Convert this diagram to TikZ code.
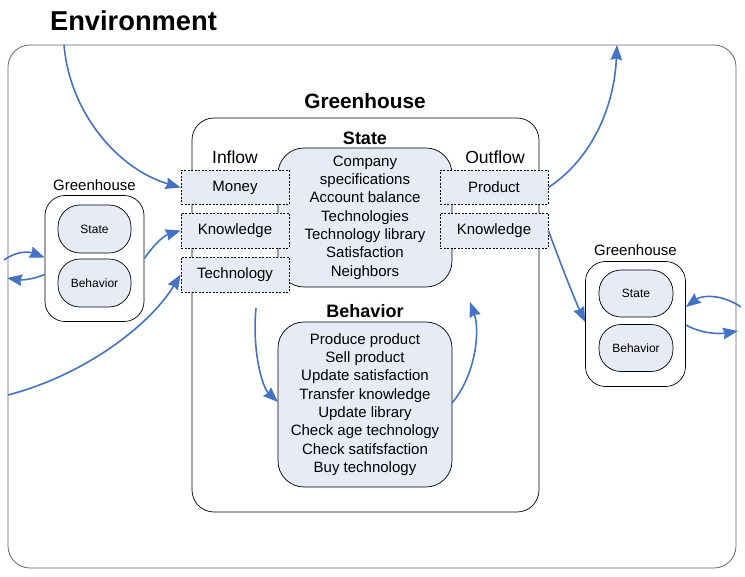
\documentclass[tikz,border=0pt]{standalone}
\usepackage{fontspec}
\setmainfont{Liberation Sans}
\usetikzlibrary{arrows.meta}
\definecolor{fillc}{RGB}{230,235,246}
\definecolor{arr}{RGB}{68,114,196}
\begin{document}
\begin{tikzpicture}[x=1pt,y=-1pt,
  rbox/.style={draw, fill=fillc, inner sep=0pt, align=center, line width=0.7pt},
  dbox/.style={draw, dashed, dash pattern=on 2pt off 1.5pt, fill=fillc, minimum width=108pt, inner sep=0pt, font=\fontsize{15}{18}\selectfont, line width=0.7pt},
  flow/.style={draw=arr, line width=1.6pt, -{Stealth[length=15pt,width=11.5pt,inset=1.5pt]}},
  big/.style={font=\fontsize{15}{18.3}\selectfont},
  hdr/.style={font=\fontsize{18}{20}\selectfont\bfseries},
  small/.style={font=\fontsize{12}{14}\selectfont}]
\useasboundingbox (0,0) rectangle (745,577);
% environment
\node[draw=gray!80!black, line width=0.8pt, rounded corners=22pt, minimum width=728pt, minimum height=523pt, inner sep=0pt] (env) at (372,306.5) {};
\node[font=\fontsize{27.3}{30}\selectfont\bfseries] (title) at (133.5,21) {Environment};
% main greenhouse
\node[draw, line width=0.7pt, rounded corners=22pt, minimum width=347pt, minimum height=394pt, inner sep=0pt] (gh) at (365.5,315) {};
\node[font=\fontsize{20.8}{22}\selectfont\bfseries] (ghl) at (365,101) {Greenhouse};
\node[hdr] (stl) at (365,138) {State};
\node[rbox, big, rounded corners=26pt, minimum width=174pt, minimum height=139pt] (state) at (365,217.5)
  {Company\\specifications\\Account balance\\Technologies\\Technology library\\Satisfaction\\Neighbors};
\node[font=\fontsize{17.5}{20}\selectfont] (inl) at (235,157) {Inflow};
\node[font=\fontsize{17.5}{20}\selectfont] (outl) at (495,157) {Outflow};
\node[dbox, minimum height=34pt] (money) at (235,187.5) {Money};
\node[dbox, minimum height=35pt] (kin) at (235,230.5) {Knowledge};
\node[dbox, minimum height=35pt] (tech) at (235,274.5) {Technology};
\node[dbox, minimum height=34pt] (prod) at (494,187.5) {Product};
\node[dbox, minimum height=35pt] (kout) at (494,230.5) {Knowledge};
\node[hdr] (bel) at (365,311) {Behavior};
\node[rbox, big, rounded corners=26pt, minimum width=174pt, minimum height=165pt] (beh) at (365,404.5)
  {Produce product\\Sell product\\Update satisfaction\\Transfer knowledge\\Update library\\Check age technology\\Check satifsfaction\\Buy technology};
% left small greenhouse
\node[font=\fontsize{15}{17}\selectfont] (lghl) at (94.5,185) {Greenhouse};
\node[draw, line width=0.7pt, rounded corners=20pt, minimum width=99pt, minimum height=126pt, inner sep=0pt] (lgh) at (94.5,258.5) {};
\node[rbox, small, rounded corners=22pt, minimum width=73pt, minimum height=48pt] (lst) at (94.5,229) {State};
\node[rbox, small, rounded corners=22pt, minimum width=73pt, minimum height=48pt] (lbe) at (94.5,283) {Behavior};
% right small greenhouse
\node[font=\fontsize{15}{17}\selectfont] (rghl) at (635.5,250) {Greenhouse};
\node[draw, line width=0.7pt, rounded corners=20pt, minimum width=100pt, minimum height=125pt, inner sep=0pt] (rgh) at (635.5,324) {};
\node[rbox, small, rounded corners=22pt, minimum width=74pt, minimum height=47pt] (rst) at (636,293.5) {State};
\node[rbox, small, rounded corners=22pt, minimum width=74pt, minimum height=47pt] (rbe) at (636,348) {Behavior};
% free ends
\coordinate (top1) at (64,45);
\coordinate (top2) at (617,45);
\coordinate (lin) at (4,260);
\coordinate (lout) at (7,278);
\coordinate (lbot) at (8,395);
\coordinate (rin) at (741,307);
\coordinate (rout) at (738,331);
\coordinate (b1s) at (256,308);
\coordinate (b1e) at (278,402);
\coordinate (b2s) at (452,403);
\coordinate (b2e) at (470,302);
% connectors
\draw[flow] (top1) .. controls (70,115) and (120,170) .. (money.west);
\draw[flow] (lin) .. controls (18,250) and (30,252) .. ([yshift=1pt]lgh.west);
\draw[flow] ([yshift=-16pt]lgh.west) .. controls (32,280) and (20,280) .. (lout);
\draw[flow] (lgh.east) .. controls (153,246) and (163,236) .. (kin.west);
\draw[flow] (lbot) .. controls (85,375) and (150,325) .. (tech.west);
\draw[flow] (prod.east) .. controls (590,160) and (614,110) .. (top2);
\draw[flow] (kout.east) .. controls (560,262) and (574,298) .. ([yshift=2pt]rgh.west);
\draw[flow] (rin) .. controls (722,294) and (702,295) .. ([yshift=17pt]rgh.east);
\draw[flow] ([yshift=-1pt]rgh.east) .. controls (702,334) and (720,334) .. (rout);
\draw[flow] (b1s) .. controls (252,350) and (262,387) .. (b1e);
\draw[flow] (b2s) .. controls (476,375) and (480,330) .. (b2e);
\end{tikzpicture}
\end{document}
